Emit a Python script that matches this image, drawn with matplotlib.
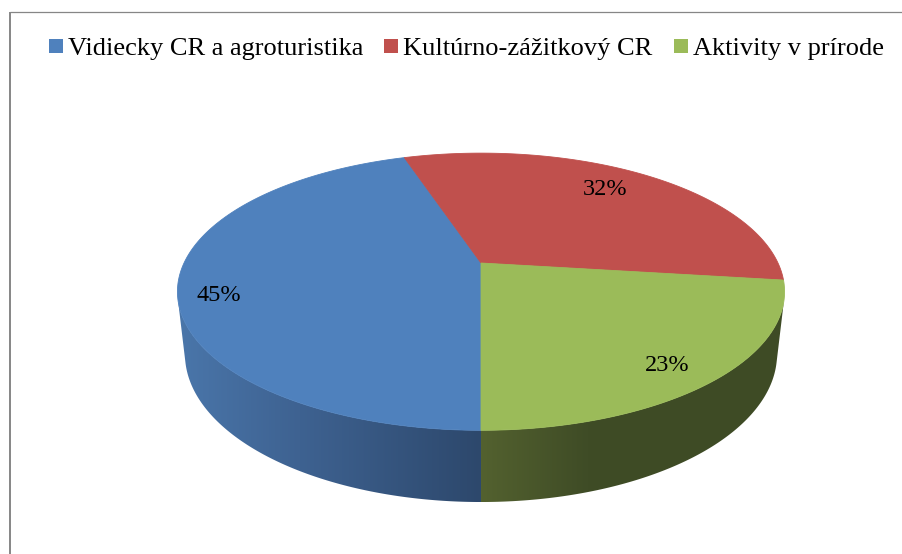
import numpy as np
import matplotlib.pyplot as plt
from matplotlib.patches import Polygon, Rectangle
from matplotlib.colors import LinearSegmentedColormap

# ==========================================================
# DATA
# ==========================================================

kategorie = ["Vidiecky CR a agroturistika", "Kultúrno-zážitkový CR", "Aktivity v prírode"]
podiely = [45, 32, 23]
popisky = ["45%", "32%", "23%"]

# ==========================================================
# STYL
# ==========================================================

farby_vrch = ["#4F81BD", "#C0504D", "#9BBB59"]
farby_bok = [
    [(0.0, "#4A76AA"), (0.4, "#3E6291"), (1.0, "#2D486C")],
    [(0.0, "#8E3B39"), (0.5, "#7A3230"), (1.0, "#602826")],
    [(0.0, "#53612F"), (0.35, "#3F4C26"), (1.0, "#3E4B25")],
]
# posun popisku (polomer, uhol v stupnoch)
popisok_polomer = [0.873, 0.785, 0.859]
popisok_posun = [-6.7, -2.5, 2.5]

plt.rcParams["font.family"] = ["Liberation Serif", "DejaVu Serif"]

# geometria 3D kolaca (perspektiva)
stred_x, stred_y = 481, 263
f = 1283.0
D = 4.32
sin_a, cos_a = 0.4466, 0.8947
hrubka = 0.236
start = 90.0


def projekcia(u, v, z):
    hlbka = D - (v * cos_a + z * sin_a)
    x = stred_x + f * u / hlbka
    y = stred_y + f * (v * sin_a - z * cos_a) / hlbka
    return x, y


def obluk(t1, t2, z, n=200):
    t = np.radians(np.linspace(t1, t2, n))
    return projekcia(np.cos(t), np.sin(t), z)


fig = plt.figure(figsize=(9.02, 5.54), dpi=100)
ax = fig.add_axes([0, 0, 1, 1])
ax.set_xlim(0, 902)
ax.set_ylim(554, 0)
ax.axis("off")

# ramik grafu
ax.plot([9.5, 9.5], [554, 11.5], color="#868686", lw=1.4, solid_capstyle="butt")
ax.plot([9.5, 902], [11.5, 11.5], color="#868686", lw=0.9, solid_capstyle="butt")

uhly = start + np.cumsum([0] + [p / sum(podiely) * 360 for p in podiely])

# ==========================================================
# BOCNE STENY
# ==========================================================

vid = np.degrees(np.arcsin(1 / (D * cos_a)))
for i in range(len(podiely)):
    for posun in (0, 360):
        t1 = max(uhly[i] - posun, vid)
        t2 = min(uhly[i + 1] - posun, 180 - vid)
        if t2 <= t1:
            continue
        xh, yh = obluk(t1, t2, 0)
        xd, yd = obluk(t2, t1, -hrubka)
        body = np.column_stack([np.r_[xh, xd], np.r_[yh, yd]])
        stena = Polygon(body, closed=True, facecolor="none", edgecolor="none")
        ax.add_patch(stena)
        cmap = LinearSegmentedColormap.from_list("bok%d" % i, farby_bok[i])
        x0, x1 = body[:, 0].min(), body[:, 0].max()
        y0, y1 = body[:, 1].min(), body[:, 1].max()
        grad = np.linspace(0, 1, 256).reshape(1, -1)
        im = ax.imshow(grad, cmap=cmap, extent=(x0, x1, y1, y0),
                       aspect="auto", interpolation="bilinear", zorder=1)
        im.set_clip_path(stena)

ax.set_xlim(0, 902)
ax.set_ylim(554, 0)

# ==========================================================
# VRCHNA PLOCHA
# ==========================================================

for i in range(len(podiely)):
    xs, ys = obluk(uhly[i], uhly[i + 1], 0)
    cx, cy = projekcia(0, 0, 0)
    body = np.column_stack([np.r_[cx, xs], np.r_[cy, ys]])
    ax.add_patch(Polygon(body, closed=True, facecolor=farby_vrch[i],
                         edgecolor=farby_vrch[i], lw=0.6, zorder=2))

    stred = (uhly[i] + uhly[i + 1]) / 2 + popisok_posun[i]
    r = popisok_polomer[i]
    lx, ly = projekcia(r * np.cos(np.radians(stred)), r * np.sin(np.radians(stred)), 0)
    ax.text(lx, ly, popisky[i], fontsize=17.5, ha="center", va="center",
            color="black", zorder=3)

# ==========================================================
# LEGENDA
# ==========================================================

fig.canvas.draw()
renderer = fig.canvas.get_renderer()
x = 49
for i, nazov in enumerate(kategorie):
    ax.add_patch(Rectangle((x, 39), 14, 14, facecolor=farby_vrch[i],
                           edgecolor="none", zorder=3))
    t = ax.text(x + 19, 55, nazov, fontsize=19, ha="left", va="baseline",
                color="black", zorder=3)
    bb = t.get_window_extent(renderer)
    x = bb.x1 + 21

fig.savefig("out.png", dpi=100)
